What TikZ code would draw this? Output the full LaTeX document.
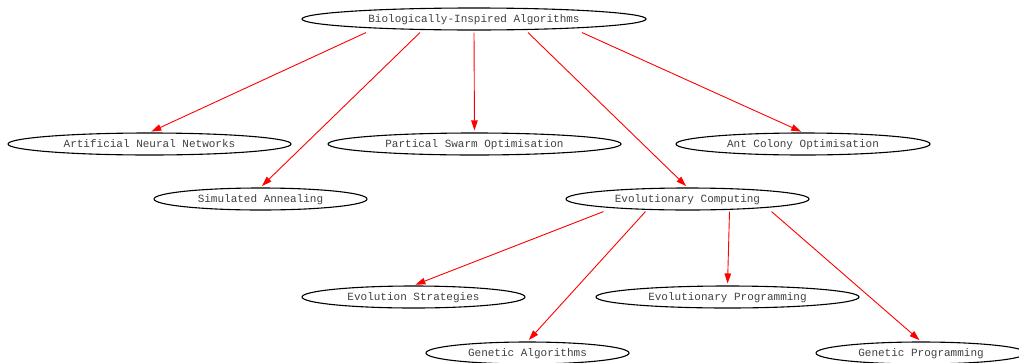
\documentclass[tikz,border=0pt]{standalone}
\usepackage{fontspec}
\setmonofont{Liberation Mono}
\usetikzlibrary{shapes.geometric,arrows.meta,calc}
\begin{document}
\begin{tikzpicture}[x=1pt, y=-1pt, >={Triangle[length=10pt,width=6.5pt]},
  algo/.style={ellipse, draw, line width=1.1pt, inner sep=0pt, minimum height=22pt,
    text depth=0pt, font=\ttfamily\fontsize{11}{12}\selectfont, text=black!75},
  link/.style={->, red, line width=0.9pt, shorten >=2pt}]
  \useasboundingbox (0,0) rectangle (1019,362);
  \node[algo, minimum width=344pt] (bio) at (474,19) {Biologically-Inspired Algorithms};
  \node[algo, minimum width=283pt] (ann) at (149.5,144) {Artificial Neural Networks};
  \node[algo, minimum width=293pt] (pso) at (474.5,144) {Partical Swarm Optimisation};
  \node[algo, minimum width=254pt] (aco) at (803,144) {Ant Colony Optimisation};
  \node[algo, minimum width=213pt] (sa) at (260.5,199) {Simulated Annealing};
  \node[algo, minimum width=243pt] (ec) at (687.5,199) {Evolutionary Computing};
  \node[algo, minimum width=223pt] (es) at (413.5,297) {Evolution Strategies};
  \node[algo, minimum width=263pt] (ep) at (727.5,297) {Evolutionary Programming};
  \node[algo, minimum width=203pt] (ga) at (527.5,353) {Genetic Algorithms};
  \node[algo, minimum width=210pt] (gp) at (921,353) {Genetic Programming};
  \draw[link] ($(bio.south)+(-108,2)$) -- (ann.north);
  \draw[link] ($(bio.south)+(-54,2)$) -- (sa.north);
  \draw[link] ($(bio.south)+(0,2)$) -- (pso.north);
  \draw[link] ($(bio.south)+(54,2)$) -- (ec.north);
  \draw[link] ($(bio.south)+(108,2)$) -- (aco.north);
  \draw[link] ($(ec.south)+(-84,1)$) -- (es.north);
  \draw[link] ($(ec.south)+(-42,1)$) -- (ga.north);
  \draw[link] ($(ec.south)+(42,1)$) -- (ep.north);
  \draw[link] ($(ec.south)+(84,1)$) -- (gp.north);
\end{tikzpicture}
\end{document}
